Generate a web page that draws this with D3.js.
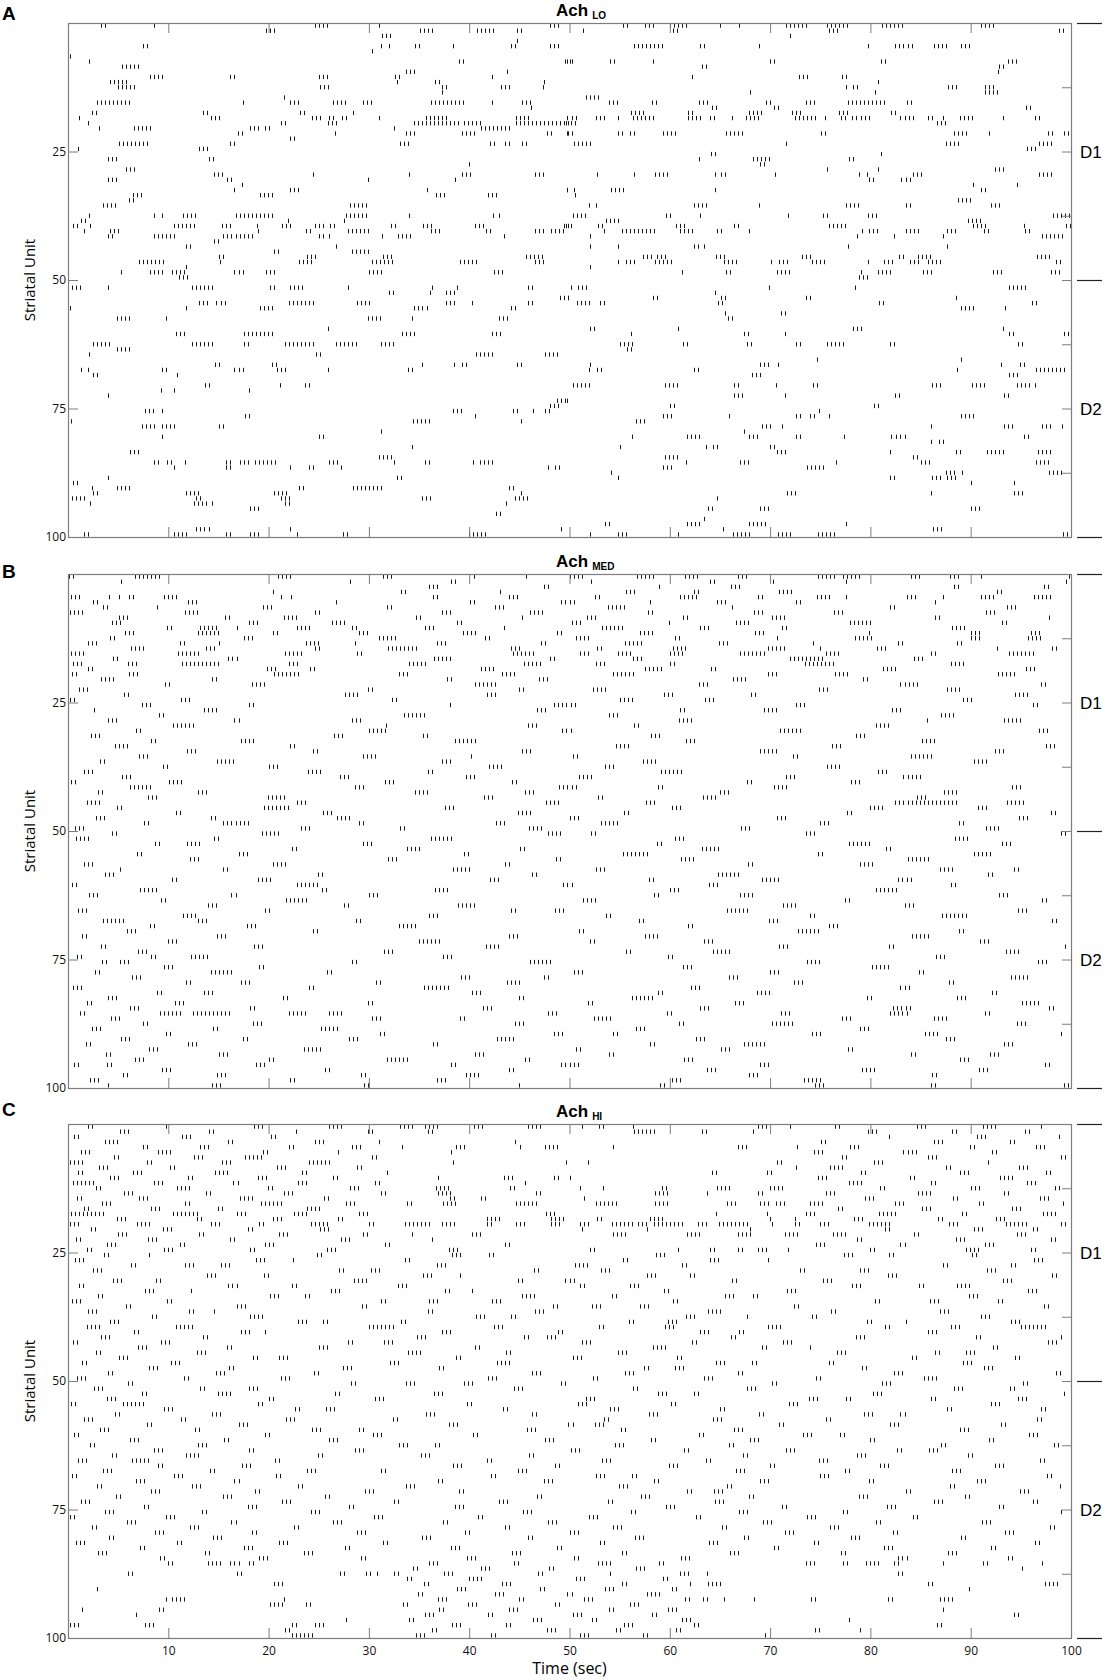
<!DOCTYPE html>
<html>
<head>
<meta charset="utf-8">
<script src="https://cdn.jsdelivr.net/npm/d3@7"></script>
<style>
  body { margin: 0; background: #fff; }
  svg { display: block; }
</style>
</head>
<body>
<div class="raster"></div>
<script>
// bursts: [unit, t1, n1, t2, n2, ...]
// t = time of the first spike of a burst (s), n = number of spikes in it
const achLoBursts = [
  [1,3.3,2],[1,8.6,1],[1,24.6,4],[1,31.0,1],[1,48.1,3],
  [2,19.7,3],[2,35.1,4],[2,40.8,5],[2,44.8,2],
  [3,31.3,3],[4,44.8,1],
  [5,7.5,2],[5,31.2,1],[5,32.0,1],[5,34.6,2],[5,38.4,1],[5,44.2,2],[5,48.1,3],
  [6,30.3,1],[7,0.2,1],
  [8,2.1,1],[8,39.0,2],[8,49.6,2],
  [9,5.4,5],
  [10,33.7,3],[10,43.8,1],
  [11,8.2,4],[11,16.2,2],[11,25.0,3],[11,32.6,2],[11,42.3,1],
  [12,4.2,5],[12,32.8,1],[12,36.6,2],[12,47.5,1],
  [13,5.0,5],[13,25.1,3],[13,37.3,2],[13,43.2,3],[13,47.4,1],
  [14,37.3,1],[15,21.5,1],
  [16,2.9,9],[16,17.4,1],[16,22.1,3],[16,26.4,4],[16,29.4,3],[16,36.2,9],[16,42.3,1],[16,45.3,3],
  [17,46.2,1],
  [18,2.4,2],[18,13.5,2],[18,23.1,2],[18,28.4,1],
  [19,1.1,1],[19,14.3,3],[19,24.3,3],[19,26.0,2],[19,27.3,2],[19,31.0,1],[19,35.7,6],[19,44.7,4],
  [20,2.0,1],[20,21.2,2],[20,25.9,3],[20,34.5,12],[20,39.5,5],[20,44.7,14],
  [21,3.1,1],[21,6.6,5],[21,18.1,3],[21,19.6,2],[21,32.5,1],[21,41.2,8],
  [22,16.9,2],[22,26.6,1],[22,33.7,3],[22,39.3,4],[22,47.8,2],[22,49.9,1],
  [23,22.1,2],
  [24,5.1,8],[24,16.2,2],[24,33.1,3],[24,42.1,2],[24,43.6,2],[24,45.3,2],
  [25,1.0,1],[25,13.1,3],
  [27,4.0,3],[27,14.1,2],[28,40.0,1],[29,5.8,3],
  [30,14.6,3],[30,24.4,1],[30,34.0,1],[30,39.3,3],[30,46.6,3],
  [31,4.0,3],[31,15.9,2],[31,29.9,1],[31,38.6,1],
  [32,17.3,1],
  [33,16.6,1],[33,22.1,3],[33,35.8,1],[33,49.8,1],
  [34,6.5,3],[34,19.1,4],[34,36.7,3],[34,41.9,3],
  [35,6.1,2],
  [36,3.5,4],[36,28.1,5],
  [38,2.1,1],[38,8.6,1],[38,9.4,1],[38,11.5,4],[38,16.7,10],[38,27.7,6],[38,34.0,1],[38,42.4,1],[38,43.0,1],
  [39,1.3,2],[39,21.9,1],[39,27.5,1],
  [40,0.5,2],[40,2.2,1],[40,10.6,6],[40,15.4,3],[40,18.8,1],[40,21.3,3],[40,24.6,3],[40,26.1,2],[40,32.2,2],[40,35.4,3],[40,40.6,3],[40,49.5,2],
  [41,1.6,1],[41,4.2,3],[41,18.9,1],[41,23.7,2],[41,27.9,6],[41,36.2,3],[41,41.7,2],[41,46.6,3],[41,48.2,4],
  [42,4.0,2],[42,8.6,6],[42,15.5,8],[42,25.0,2],[42,26.0,1],[42,31.3,1],[42,32.9,4],[42,43.5,1],
  [43,14.6,2],[44,11.8,2],[44,26.7,1],
  [45,20.5,2],[45,28.3,5],
  [46,15.1,2],[46,23.8,3],[46,31.4,3],[46,45.7,5],
  [47,7.1,7],[47,15.2,1],[47,23.0,4],[47,30.3,6],[47,39.1,5],[47,46.6,3],
  [48,11.8,1],
  [49,5.3,1],[49,8.2,4],[49,10.4,4],[49,16.6,3],[49,19.7,3],[49,30.0,4],[49,42.5,3],
  [50,11.1,3],
  [1,55.3,2],[1,57.5,3],[1,60.0,5],[1,65.0,1],[1,66.9,1],[1,71.6,6],[1,75.7,6],[1,81.2,6],[1,91.0,4],
  [2,51.3,1],[2,60.3,2],[2,75.9,3],[2,98.8,2],
  [3,72.0,1],
  [5,56.4,6],[5,58.8,2],[5,63.0,2],[5,68.9,1],[5,79.8,1],[5,82.5,5],[5,86.3,4],[5,89.0,3],
  [8,49.8,2],[8,54.0,2],[8,58.3,1],[8,70.0,2],[8,81.1,2],[8,93.7,3],
  [9,63.2,2],[9,92.8,2],[10,92.7,1],
  [11,62.2,1],[11,72.9,3],[11,77.2,2],
  [12,80.8,1],
  [13,77.6,1],[13,78.3,2],[13,87.7,3],[13,91.4,3],
  [14,68.0,1],[14,80.5,1],[14,91.4,4],
  [15,51.6,4],
  [16,53.9,3],[16,58.2,2],[16,62.9,3],[16,69.6,2],[16,73.6,3],[16,77.8,10],[16,83.6,2],
  [17,64.2,2],[17,70.4,2],[17,95.5,2],
  [18,56.1,4],[18,61.8,2],[18,67.9,4],[18,72.2,3],[18,76.9,3],[18,82.1,2],
  [19,49.8,3],[19,52.6,3],[19,54.8,1],[19,56.3,6],[19,61.8,4],[19,64.0,2],[19,66.2,1],[19,67.6,4],[19,72.5,2],[19,73.3,4],[19,75.5,1],
  [19,77.1,2],[19,78.2,2],[19,79.1,3],[19,83.0,4],[19,85.7,2],[19,87.2,1],[19,88.9,4],[19,93.2,1],[19,96.4,2],
  [20,49.7,3],[20,86.6,3],
  [22,49.8,2],[22,54.8,2],[22,56.0,2],[22,59.3,4],[22,65.6,5],[22,75.1,2],[22,88.3,4],[22,91.8,1],[22,97.7,2],[22,99.3,2],
  [24,50.4,5],[24,71.6,1],[24,87.5,4],[25,95.6,3],[24,96.8,4],
  [26,64.1,2],[26,81.1,1],
  [27,62.9,1],[27,68.3,5],[27,77.9,2],
  [28,69.0,2],
  [29,75.7,1],[29,80.8,1],[29,92.4,3],
  [30,52.7,1],[30,56.4,1],[30,58.5,4],[30,64.5,1],[30,65.1,2],[30,70.5,1],[30,78.9,1],[30,79.7,1],[30,84.2,3],[30,96.8,4],
  [31,79.9,2],[31,83.1,3],
  [32,90.2,1],[32,94.6,1],
  [33,49.8,1],[33,50.4,1],[33,54.1,4],[33,64.5,1],[33,91.0,2],
  [34,50.5,1],[35,88.7,4],
  [36,51.9,1],[36,52.6,1],[36,62.4,4],[36,68.9,1],[36,77.6,4],[36,83.5,2],[36,92.0,3],
  [38,50.3,4],[38,59.6,2],[38,63.0,1],[38,71.8,1],[38,75.3,2],[38,79.8,3],[38,98.2,5],
  [39,53.6,4],[39,89.7,4],
  [40,49.7,2],[40,52.8,2],[40,60.6,3],[40,66.4,2],[40,75.9,5],[40,90.2,4],[40,95.3,1],[40,99.5,2],
  [41,53.4,1],[41,55.2,9],[41,61.0,4],[41,64.7,2],[41,67.9,1],[41,79.2,1],[41,79.9,3],[41,83.5,4],[41,87.6,3],[41,91.3,2],[41,95.4,2],
  [42,52.0,1],[42,78.7,1],[42,82.4,1],[42,87.2,1],[42,97.1,6],
  [44,52.0,1],[44,54.8,1],[44,62.4,2],[44,63.4,1],[44,77.8,1],[44,87.6,1],
  [46,57.3,3],[46,58.7,3],[46,64.6,3],[46,73.2,3],[46,82.9,2],[46,84.7,4],[46,96.6,4],
  [47,54.8,1],[47,55.6,3],[47,58.5,5],[47,65.4,4],[47,70.1,1],[47,70.9,3],[47,74.2,4],[47,79.8,1],[47,81.4,3],[47,83.9,3],[47,85.7,4],[47,98.5,2],
  [48,52.0,1],
  [49,61.2,1],[49,65.6,2],[49,70.7,4],[49,79.1,1],[49,80.8,4],[49,85.2,3],[49,92.2,3],[49,98.0,3],
  [50,78.9,3],
  [52,0.0,4],[52,4.0,1],[52,12.4,6],[52,20.1,2],[52,22.1,4],[52,27.9,1],[52,36.3,1],[52,38.8,1],[52,45.9,2],
  [53,32.0,2],[53,36.1,1],[53,37.7,3],
  [54,49.1,3],
  [55,13.1,3],[55,14.8,1],[55,15.3,2],[55,22.0,7],[55,28.8,4],[55,37.7,3],[55,40.3,1],[55,45.9,2],
  [56,0.2,1],[56,11.8,1],[56,19.1,4],[56,34.5,3],[56,35.8,1],[56,44.2,2],
  [58,4.9,4],[58,9.8,1],[58,29.9,4],[58,34.3,1],[58,43.0,3],
  [60,25.9,1],
  [61,10.8,3],[61,17.5,8],[61,33.3,4],[61,42.3,3],
  [63,0.0,1],[63,2.5,5],[63,12.4,6],[63,17.5,2],[63,21.6,8],[63,26.7,6],[63,31.2,4],
  [64,4.9,4],
  [65,2.1,1],[65,24.7,2],[65,40.7,5],[65,47.6,4],
  [67,14.7,2],[67,20.3,2],[67,35.3,1],[67,38.5,1],[67,39.3,2],[67,44.8,2],
  [68,1.3,1],[68,2.0,1],[68,9.4,2],[68,16.6,3],[68,20.8,3],[68,25.9,1],[68,33.9,2],
  [69,2.5,2],[69,10.9,1],
  [71,13.7,2],[71,21.1,1],[71,23.6,2],
  [72,9.3,1],[72,10.6,1],[72,18.0,1],
  [73,4.0,1],[74,48.8,3],[75,48.1,3],
  [76,7.7,3],[76,9.4,1],[76,38.4,3],[76,44.4,2],[76,46.4,1],[76,47.6,2],
  [77,17.6,2],[77,40.6,1],
  [78,0.3,1],[78,34.4,5],[78,45.2,1],
  [79,7.4,4],[79,9.4,4],[79,15.1,2],
  [80,31.2,1],[81,9.4,1],[81,25.0,2],[83,34.3,1],[84,6.2,3],[85,31.0,4],
  [86,8.6,2],[86,9.9,2],[86,11.7,1],[86,15.8,2],[86,17.1,3],[86,18.6,6],[86,26.0,3],[86,32.5,1],[86,35.6,2],[86,40.4,1],[86,41.1,4],
  [87,10.6,1],[87,15.8,2],[87,22.1,1],[87,24.0,2],[87,27.2,1],[87,47.9,1],[87,48.6,2],
  [89,4.0,1],[89,32.8,2],
  [90,0.5,2],
  [91,2.4,1],[91,4.9,4],[91,23.0,2],[91,28.4,8],[91,44.0,2],
  [92,2.5,2],[92,11.8,4],[92,20.5,4],[92,45.2,1],
  [93,0.0,5],[93,12.8,2],[93,21.2,3],[93,35.3,3],[93,44.6,4],
  [94,2.2,1],[94,12.6,4],[94,14.4,1],[94,21.6,2],[94,43.7,1],
  [95,18.1,3],[96,42.7,2],
  [99,12.8,3],[99,14.1,1],[99,22.1,1],[99,49.2,1],
  [100,1.6,2],[100,10.6,4],[100,15.8,2],[100,18.1,3],[100,22.8,1],[100,27.4,2],[100,40.0,5],
  [52,50.1,1],[52,50.8,3],[52,69.9,1],[52,78.5,1],[52,93.8,5],
  [53,64.5,1],
  [54,49.9,1],[54,58.3,2],[54,65.1,2],[54,73.6,2],[54,88.5,1],
  [55,50.7,4],[55,53.0,2],[55,64.8,2],[55,80.9,2],[55,96.1,2],
  [56,89.0,4],[56,93.4,1],
  [57,65.5,1],[57,71.1,2],[58,65.8,2],
  [60,52.0,2],[60,60.8,1],[60,78.3,3],[60,93.2,1],
  [61,56.1,1],[61,67.4,2],[61,71.5,1],[61,93.8,2],[61,99.3,3],
  [63,55.0,4],[63,61.3,2],[63,67.7,2],[63,72.6,2],[63,75.7,5],[63,82.0,2],[63,94.7,2],
  [64,55.7,2],[66,74.7,1],[66,89.0,1],
  [67,52.0,1],[67,69.0,3],[67,70.8,1],[67,93.0,1],[67,94.9,2],
  [68,51.9,1],[68,52.7,2],[68,62.4,2],[68,88.6,1],[68,96.5,8],
  [69,68.2,3],[69,93.8,3],
  [71,50.3,3],[71,51.5,2],[71,59.5,4],[71,66.4,2],[71,70.6,1],[71,74.3,2],[71,86.1,3],[71,90.1,4],[71,94.6,4],[71,96.4,1],
  [73,66.4,3],[73,71.5,1],[73,82.5,2],[73,93.3,2],
  [74,49.8,1],[75,60.0,2],[75,80.4,2],[76,74.9,1],
  [77,59.3,3],[77,65.9,1],[77,72.6,2],[77,74.0,2],[77,75.9,1],[77,89.0,4],
  [78,56.6,3],
  [79,69.2,3],[79,71.2,1],[79,86.0,1],[79,93.3,3],[79,97.1,3],[79,99.1,1],
  [80,67.4,1],
  [81,56.2,1],[81,61.7,4],[81,67.9,3],[81,72.6,2],[81,77.4,1],[81,82.1,1],[81,82.6,3],[81,95.3,2],
  [82,86.0,1],[82,86.8,2],
  [83,55.0,1],[83,63.6,1],[83,64.3,2],[83,70.0,2],
  [84,70.7,3],[84,82.0,1],[84,88.5,2],[84,91.6,5],[84,96.7,4],
  [85,59.5,4],[85,84.2,2],
  [86,61.6,1],[86,67.0,3],[86,76.6,1],[86,85.0,3],[86,96.5,4],
  [87,59.3,3],[87,73.7,5],
  [88,54.1,1],[88,87.5,3],[88,89.1,1],[88,97.8,4],
  [89,54.8,1],[89,82.0,2],[89,86.1,3],[89,87.6,3],
  [90,90.0,1],[90,94.3,1],
  [92,71.7,3],[92,86.0,1],[92,94.3,3],
  [93,64.7,1],
  [95,63.8,2],[95,69.0,3],[95,90.0,3],
  [97,63.4,1],
  [98,53.5,2],[98,61.7,4],[98,67.9,5],[98,77.6,1],
  [99,65.3,1],[99,86.2,3],
  [100,52.0,1],[100,54.8,3],[100,60.8,1],[100,66.3,5],[100,70.8,4],[100,74.8,5],[100,99.2,3]
];

const achMedBursts = [
  [1,0.1,2],[1,6.7,7],[1,20.9,4],[1,31.4,3],[2,5.3,1],[2,28.1,1],
  [5,0.3,3],[5,4.1,1],[5,5.1,1],[5,6.1,2],[5,9.6,4],[4,20.4,1],[5,21.2,1],[5,22.2,1],
  [8,0.2,4],[8,11.7,4],[9,15.7,2],[10,4.4,3],[10,18.0,3],
  [11,9.9,2],[11,13.2,5],[11,16.8,1],[11,22.8,4],[11,28.3,2],[12,5.7,3],[13,31.0,5],
  [14,11.2,2],[14,15.1,1],[14,23.7,4],[14,28.6,1],
  [1,74.8,5],[1,77.3,5],[1,84.0,3],[1,87.9,3],[1,91.0,1],[1,99.8,1],[2,77.6,1],[2,99.5,1],
  [3,88.3,2],[3,97.3,2],[4,92.6,2],[5,74.7,4],[5,77.6,1],[5,83.6,3],[5,87.2,1],[5,91.0,4],[5,96.3,5],
  [6,72.6,2],[6,86.4,1],[8,76.4,3],[8,91.5,3],[10,78.0,6],[11,88.1,4],[12,90.0,3],
  [13,78.5,5],[13,90.0,3],[13,95.7,4],[14,74.3,1],[14,82.8,2],[15,75.0,1],[15,92.6,1],
  [1, 40.5,1, 45.7,1, 50.0,4, 56.7,5, 61.5,4, 66.8,3],
  [2, 38.2,2, 52.1,1, 64.0,2, 70.3,1],
  [3, 36.0,3, 47.5,2, 58.9,1, 66.1,3],
  [4, 33.2,2, 43.1,1, 55.6,3, 62.4,2, 70.9,4],
  [5, 36.4,2, 44.0,3, 52.5,2, 61.0,5, 68.8,2],
  [6, 2.5,2, 12.0,3, 26.7,1, 40.1,2, 49.2,4, 58.0,1, 64.7,3],
  [7, 3.5,2, 8.9,1, 19.4,3, 31.8,2, 42.6,3, 53.8,5, 66.2,1, 82.0,2, 93.6,3],
  [8, 24.6,2, 37.3,3, 46.1,4, 57.8,2, 68.4,3],
  [9, 5.1,3, 21.5,4, 34.7,2, 45.3,1, 51.7,3, 61.3,2, 70.2,4, 86.4,2, 97.8,1],
  [10, 26.3,4, 38.8,2, 50.2,3, 59.9,1, 66.6,4, 93.1,2],
  [11, 35.6,3, 43.5,1, 53.2,6, 63.0,3, 71.2,2],
  [12, 13.0,6, 20.4,2, 29.0,3, 39.4,4, 48.8,2, 57.0,4, 68.5,3, 79.9,1, 96.0,3],
  [13, 4.2,2, 17.5,3, 41.6,2, 50.6,4, 60.5,2, 70.7,1],
  [14, 2.0,3, 36.8,3, 47.2,2, 55.5,5, 64.9,3, 88.6,2],
  [15, 6.3,4, 13.8,3, 24.6,2, 31.9,8, 44.2,3, 52.7,2, 60.3,4, 69.8,5, 80.7,3, 98.1,2],
  [16, 0.3,4, 11.0,6, 21.6,5, 28.8,2, 44.4,6, 51.0,3, 54.8,4, 60.0,4, 67.0,7, 75.6,4, 86.0,2, 93.8,7],
  [17, 4.5,2, 16.0,3, 36.5,5, 48.1,2, 56.3,3, 72.0,9, 84.3,3],
  [18, 0.5,3, 6.0,3, 11.4,10, 22.0,3, 34.0,5, 45.5,5, 52.6,3, 60.0,2, 73.5,8, 88.0,4],
  [19, 2.0,2, 19.8,3, 24.1,2, 41.2,4, 57.5,5, 64.1,2, 81.3,4, 95.5,3],
  [20, 0.4,2, 6.1,3, 20.5,7, 33.0,3, 43.3,4, 54.3,6, 69.8,3, 76.5,4, 92.7,5],
  [21, 3.3,4, 14.4,2, 37.8,2, 47.0,3, 66.3,4, 79.3,2],
  [22, 9.7,2, 18.3,4, 40.6,6, 62.9,3, 83.0,5, 97.0,2],
  [23, 1.1,3, 29.9,2, 45.0,2, 52.3,4, 74.9,3, 87.6,4],
  [24, 5.6,2, 27.6,4, 41.8,3, 59.4,3, 68.1,2, 94.4,4],
  [25, 0.2,2, 11.3,3, 32.3,2, 55.0,4, 63.5,3, 89.2,3],
  [26, 7.4,3, 18.0,2, 38.1,1, 48.5,6, 72.6,3, 96.2,2],
  [27, 2.6,1, 13.6,4, 46.8,3, 61.0,2, 69.4,4, 82.2,3],
  [28, 9.1,2, 33.5,6, 53.9,3, 87.0,4],
  [29, 4.0,3, 16.6,2, 28.3,3, 60.9,4, 85.6,1, 93.3,5],
  [30, 10.5,6, 31.7,1, 45.9,3, 56.4,2, 80.6,4],
  [31, 6.8,2, 30.0,5, 49.3,3, 71.0,6, 96.8,3],
  [32, 2.3,3, 26.5,3, 35.4,2, 58.1,3, 78.6,3],
  [33, 8.3,2, 17.2,4, 38.6,6, 61.6,3, 85.1,4],
  [34, 4.7,4, 22.1,2, 54.6,4, 76.2,3, 97.5,3],
  [35, 11.9,3, 24.4,2, 45.3,3, 69.0,5, 92.4,3],
  [36, 7.1,3, 29.4,4, 40.2,1, 50.3,2, 72.3,2, 84.0,6],
  [37, 3.2,2, 14.9,5, 37.3,3, 57.3,4, 90.3,4],
  [38, 9.5,2, 20.0,3, 42.0,4, 53.5,3, 75.7,4],
  [39, 1.6,3, 23.9,4, 35.9,2, 59.1,6, 80.8,3],
  [40, 5.4,3, 27.1,3, 39.7,3, 50.9,4, 71.6,3, 83.3,5],
  [41, 0.3,2, 10.1,4, 31.6,3, 44.3,2, 67.7,2, 78.1,3],
  [42, 6.2,6, 28.6,3, 49.0,5, 58.8,2, 70.4,4, 94.1,3],
  [43, 3.0,2, 13.0,3, 34.6,4, 45.6,3, 65.0,3, 87.3,4],
  [44, 8.0,3, 19.9,5, 41.5,3, 52.8,2, 63.3,4, 84.6,3],
  [45, 1.9,4, 22.8,3, 47.7,4, 57.6,3, 82.5,16, 93.6,5],
  [46, 4.9,2, 19.5,7, 37.6,3, 60.2,3, 80.0,4, 90.7,3],
  [47, 10.8,2, 25.4,3, 44.9,4, 55.4,2, 77.7,2, 98.0,2],
  [48, 2.8,3, 14.3,2, 26.8,4, 50.0,3, 70.7,3, 94.8,3],
  [49, 7.6,2, 15.5,7, 29.0,2, 42.7,3, 53.1,5, 75.0,3, 88.8,2],
  [50, 0.7,3, 23.2,3, 33.1,2, 46.0,4, 67.1,3, 91.5,4],
  [51, 4.4,2, 19.3,5, 47.9,4, 52.1,2, 73.6,3, 99.0,2],
  [52, 0.8,4, 14.6,2, 36.2,6, 60.5,3, 88.4,4],
  [53, 8.7,2, 11.9,4, 29.4,3, 58.7,2, 77.9,6, 93.1,3],
  [54, 22.3,2, 33.8,4, 45.1,2, 63.2,5, 81.6,2],
  [55, 6.9,2, 17.0,3, 39.5,2, 55.3,7, 74.8,2, 90.3,5],
  [56, 12.2,3, 31.9,3, 48.7,2, 61.1,4, 83.7,6],
  [57, 1.6,3, 20.4,4, 43.6,2, 67.8,2, 79.0,4],
  [58, 5.2,1, 15.5,2, 38.4,5, 52.6,3, 86.9,4, 94.3,2],
  [59, 3.7,3, 24.9,2, 46.3,2, 64.8,6, 91.7,2],
  [60, 10.4,2, 18.9,4, 42.1,3, 57.9,2, 69.2,5, 82.8,4],
  [61, 0.4,2, 22.8,6, 49.4,3, 63.9,3, 88.0,2],
  [62, 7.2,5, 25.3,2, 36.6,4, 60.0,3, 80.6,6],
  [63, 2.1,3, 16.3,2, 30.0,3, 58.4,2, 67.0,4, 92.8,3],
  [64, 9.3,2, 21.7,6, 51.3,4, 77.5,2, 97.1,2],
  [65, 14.0,3, 27.5,2, 38.9,5, 71.3,4, 83.4,3],
  [66, 1.0,3, 19.6,2, 44.2,2, 48.6,3, 65.7,6, 94.7,3],
  [67, 11.5,4, 36.0,3, 53.6,2, 74.0,2, 87.1,7],
  [68, 3.5,6, 13.0,3, 28.7,2, 56.9,2, 69.9,3, 98.1,2],
  [69, 8.2,2, 17.8,3, 33.0,5, 61.8,2, 75.9,3],
  [70, 5.9,3, 24.4,2, 50.9,2, 72.8,6, 88.8,2],
  [71, 1.4,2, 14.9,3, 44.0,3, 57.5,4, 84.1,5],
  [72, 10.0,3, 35.0,6, 52.0,2, 63.4,3, 90.9,3],
  [73, 3.3,2, 18.5,3, 41.7,4, 70.9,3, 81.9,2, 99.4,1],
  [74, 7.0,3, 31.5,3, 55.6,2, 64.3,5, 93.5,4],
  [75, 0.9,2, 8.3,2, 12.3,5, 37.4,3, 59.8,2, 86.5,3],
  [76, 3.4,2, 5.2,3, 28.3,2, 46.1,6, 73.7,4, 96.7,3],
  [77, 9.6,3, 19.0,2, 61.3,3, 80.2,5],
  [78, 2.7,2, 14.3,6, 25.8,2, 50.4,3, 70.0,3, 84.8,2],
  [79, 6.4,3, 39.2,3, 47.5,2, 65.9,3, 94.0,5],
  [80, 11.8,2, 17.2,3, 30.7,2, 43.8,4, 72.4,3, 87.8,2],
  [81, 0.5,3, 24.0,2, 35.5,7, 62.1,3, 83.0,3],
  [82, 8.9,2, 13.6,3, 40.3,3, 58.8,2, 68.7,4, 92.1,2],
  [83, 4.0,3, 21.4,2, 45.0,2, 56.2,6, 79.7,2, 88.6,3],
  [84, 1.9,2, 10.7,3, 29.9,2, 51.8,2, 66.5,3, 95.1,5],
  [85, 6.2,3, 18.1,2, 41.4,3, 63.0,3, 82.3,5, 97.8,2],
  [86, 1.2,2, 9.2,6, 12.5,10, 22.0,5, 26.0,4, 47.9,3, 59.7,2, 71.1,3, 82.0,5, 91.4,2],
  [87, 4.3,3, 30.3,3, 39.1,2, 52.4,5, 77.2,3, 86.3,4],
  [88, 7.5,2, 18.4,3, 44.6,3, 60.9,2, 70.2,6, 94.6,3],
  [89, 2.4,3, 14.5,2, 25.2,5, 56.6,3, 79.0,3],
  [90, 9.8,2, 31.1,2, 48.5,3, 54.3,2, 74.2,3, 85.4,4, 99.0,1],
  [91, 5.3,3, 17.4,2, 28.0,3, 42.8,5, 62.6,3, 87.5,3],
  [92, 1.8,2, 12.0,3, 36.4,2, 58.0,2, 67.4,6, 93.3,3],
  [93, 8.1,3, 23.5,5, 50.6,2, 65.1,3, 77.8,2],
  [94, 3.8,2, 15.1,3, 40.6,3, 53.9,2, 84.0,2, 91.9,3],
  [95, 6.7,3, 20.0,2, 31.8,6, 45.6,2, 61.4,3, 88.9,3],
  [96, 0.6,2, 3.9,2, 18.7,3, 38.2,2, 49.2,5, 69.0,3, 97.4,2],
  [97, 9.4,3, 25.6,2, 44.0,2, 63.7,3, 79.2,4, 90.8,3],
  [98, 5.5,2, 14.9,3, 29.2,2, 39.7,4, 67.9,3, 86.1,2],
  [99, 2.2,3, 22.1,2, 36.8,3, 60.2,3, 73.4,5],
  [100, 4.0,1, 14.4,3, 29.5,2, 45.0,1, 59.0,2, 74.5,3, 86.0,2, 99.3,2]
];

const achHiBursts = [
  [1,33.1,4],[1,35.6,4],[1,40.5,3],[1,45.9,4],[1,51.2,1],[1,52.9,2],[1,56.3,1],[1,68.8,3],[1,72.0,1],
  [2,35.9,2],[2,56.4,6],[2,63.2,2],[2,68.3,1],
  [4,44.6,1],
  [5,33.3,1],[5,38.7,3],[5,45.1,1],[5,47.6,4],[5,54.3,1],[5,66.8,3],[5,72.7,1],
  [6,38.2,1],
  [8,38.4,1],[8,49.7,1],[8,51.8,1],[8,70.7,2],[9,72.6,1],
  [10,64.2,2],[10,69.7,2],
  [11,36.9,1],[11,43.5,3],[11,48.5,2],[11,50.0,1],[12,45.6,1],
  [13,36.7,4],[13,44.1,2],[13,51.0,1],[13,53.3,1],[13,59.2,2],[13,64.7,4],[13,70.0,4],
  [14,36.9,4],[14,46.7,2],[14,58.5,4],[14,63.7,1],[14,68.8,2],
  [15,38.1,2],[15,41.2,2],[15,51.4,1],
  [16,33.8,2],[16,37.4,4],[16,44.7,6],[16,52.6,6],[16,58.5,4],[16,65.7,3],[16,69.0,3],[16,70.6,3],
  [18,47.7,3],[18,64.6,1],[18,69.7,1],
  [19,41.8,4],[19,48.2,4],[19,52.7,2],[19,58.0,4],[19,70.0,1],[19,72.5,1],
  [20,33.6,7],[20,37.3,4],[20,41.8,2],[20,44.7,3],[20,48.2,3],[20,51.0,3],[20,54.2,6],[20,56.8,3],[20,58.4,8],[20,62.8,3],[20,64.9,8],[20,70.2,1],[20,72.5,2],
  [21,51.2,1],[21,57.7,1],[21,68.0,1],
  [22,34.3,1],[22,40.3,3],[22,54.3,4],[22,61.7,4],[22,66.8,4],[22,71.5,4],
  [23,36.3,1],[24,43.6,2],
  [25,38.0,3],[25,52.0,2],[25,60.8,1],[25,64.0,2],[25,66.8,2],[25,68.8,3],[25,71.8,1],
  [86,10.0,2],[86,14.0,4],[86,16.2,3],[86,18.0,2],
  [88,6.0,2],[88,16.8,2],[88,27.1,2],[88,29.7,2],[88,30.8,1],[88,32.5,2],
  [90,20.5,3],[91,2.9,1],
  [93,9.8,1],[93,10.4,4],[93,21.5,1],
  [94,20.1,4],[94,23.7,2],
  [95,1.4,1],[95,9.1,2],[96,6.8,1],[97,27.7,1],
  [98,0.2,3],[98,7.7,3],[98,22.3,2],[98,24.6,3],
  [99,21.6,2],[100,22.3,6],
  [86,73.6,3],[86,77.3,2],[86,79.6,4],[86,82.4,2],[86,87.2,1],[86,91.2,2],[86,97.1,1],
  [87,95.1,1],[88,63.7,1],[88,82.8,2],
  [90,63.8,4],[90,85.7,2],[90,97.4,4],[91,89.8,1],
  [93,63.3,2],[93,65.4,1],[93,68.4,1],[93,74.1,2],[93,81.8,2],[93,86.9,4],
  [95,87.2,1],[96,94.3,2],[97,77.9,1],[98,86.6,2],[99,74.5,2],[99,79.0,1],[100,69.5,1],
  [1, 2.0,2, 9.8,1, 18.5,3, 26.0,4, 76.5,2, 84.6,3, 91.2,4, 97.0,1],
  [2, 5.2,3, 14.1,2, 22.7,1, 29.9,2, 79.8,3, 88.1,2, 95.4,2],
  [3, 0.6,2, 11.4,3, 20.2,2, 81.9,1, 90.6,3, 98.8,1],
  [4, 3.7,4, 16.0,2, 24.6,3, 31.0,1, 75.1,2, 86.3,3, 93.9,2],
  [5, 7.5,2, 13.2,3, 22.0,2, 28.3,3, 78.0,3, 89.9,2, 96.5,3],
  [6, 1.3,3, 9.0,4, 19.4,2, 26.9,1, 74.4,3, 83.3,4, 92.1,2],
  [7, 4.6,2, 12.6,3, 17.6,5, 30.3,2, 77.2,2, 85.7,3, 99.0,2],
  [8, 0.2,4, 7.9,2, 15.4,3, 24.0,6, 80.4,3, 91.7,1],
  [9, 3.1,3, 10.2,2, 20.8,3, 28.8,2, 76.0,4, 87.5,2, 94.8,3],
  [10, 1.0,2, 6.5,3, 14.7,4, 23.3,2, 31.8,1, 79.1,2, 88.9,3, 97.5,2],
  [11, 4.2,3, 12.0,2, 18.9,3, 26.4,2, 74.8,3, 83.9,2, 92.9,4],
  [12, 0.5,6, 8.6,3, 16.5,2, 22.9,3, 30.6,2, 77.9,4, 86.0,2, 95.6,3],
  [13, 2.8,2, 10.9,4, 19.9,2, 28.1,3, 81.0,2, 90.0,3, 98.4,2],
  [14, 5.6,3, 13.8,2, 21.5,3, 31.2,2, 75.6,3, 84.7,4, 93.3,2],
  [15, 0.9,2, 7.1,3, 17.1,4, 25.5,2, 79.5,3, 88.2,2, 96.9,3],
  [16, 3.4,3, 11.7,2, 19.2,6, 27.7,3, 74.0,4, 82.5,3, 90.8,2, 99.2,1],
  [17, 1.6,2, 8.3,3, 15.0,2, 23.8,4, 76.8,2, 85.1,3, 94.1,3],
  [18, 0.3,9, 10.5,7, 16.8,3, 22.5,4, 29.0,3, 73.6,3, 80.9,5, 89.1,2, 97.2,4],
  [19, 4.9,3, 12.9,2, 20.4,3, 26.9,2, 78.4,3, 86.7,2, 92.5,3],
  [20, 0.2,3, 6.9,4, 14.3,3, 19.0,2, 24.2,5, 30.0,2, 75.0,3, 79.9,6, 87.8,3, 93.5,6, 99.0,2],
  [21, 2.3,2, 9.5,3, 17.9,2, 25.1,3, 81.5,2, 90.3,3, 96.2,2],
  [22, 5.0,3, 13.1,2, 21.0,3, 29.4,2, 76.3,4, 84.3,2, 94.6,3],
  [23, 0.8,2, 8.0,3, 16.2,2, 27.2,3, 78.7,2, 88.5,3, 98.0,2],
  [24, 3.9,3, 11.2,2, 19.6,3, 31.6,2, 74.6,3, 83.0,2, 91.4,3],
  [25, 1.9,2, 9.6,3, 18.1,2, 25.8,3, 80.0,2, 89.5,4, 96.0,2],
  [26, 3.6,2, 8.1,1, 24.8,2, 38.3,3, 42.0,2, 58.6,3, 77.4,3, 81.9,2, 90.1,2],
  [27, 0.7,3, 18.7,3, 22.4,1, 33.6,2, 55.3,2, 64.0,3, 69.8,1, 96.3,3],
  [28, 6.3,2, 11.7,3, 15.3,3, 36.8,3, 50.5,4, 61.2,2, 87.2,2, 94.0,2],
  [29, 2.5,3, 27.0,2, 30.2,3, 46.5,2, 53.1,3, 73.0,2, 79.0,3, 91.6,3],
  [30, 13.9,3, 19.5,2, 35.4,3, 39.1,1, 57.7,3, 62.0,2, 81.8,3, 98.1,2],
  [31, 4.5,3, 8.8,2, 28.5,4, 44.9,2, 49.6,3, 66.2,2, 75.3,3, 93.2,3],
  [32, 1.1,2, 16.0,3, 22.3,2, 32.9,3, 51.0,2, 56.0,3, 78.2,3, 84.8,2, 88.6,4],
  [33, 7.7,3, 12.3,1, 26.2,3, 37.6,2, 40.3,1, 59.4,2, 71.7,3, 95.7,3],
  [34, 3.0,2, 20.1,3, 23.6,2, 45.3,4, 54.2,2, 65.5,3, 68.3,2, 89.8,3],
  [35, 0.4,3, 9.9,2, 31.2,2, 36.0,3, 42.3,3, 60.3,2, 80.5,2, 85.9,3, 92.7,2],
  [36, 5.8,2, 16.8,3, 29.3,2, 48.4,2, 52.2,3, 57.0,3, 72.4,2, 97.3,2],
  [37, 2.0,3, 12.1,2, 14.6,1, 35.9,2, 46.6,3, 63.8,4, 76.1,2, 86.9,3],
  [38, 8.4,2, 18.1,4, 40.7,3, 44.2,2, 61.6,3, 67.7,1, 74.2,2, 91.0,3],
  [39, 4.2,3, 22.9,3, 25.4,2, 33.2,2, 55.9,2, 59.8,3, 79.7,2, 83.5,1, 94.0,3],
  [40, 1.9,4, 10.8,5, 30.0,7, 42.5,3, 52.9,2, 59.5,3, 69.8,4, 81.5,2, 88.0,3, 95.0,7],
  [41, 6.6,2, 17.2,3, 19.6,1, 37.3,3, 48.9,2, 63.0,3, 66.9,2, 85.7,3],
  [42, 3.3,3, 13.5,2, 34.8,3, 45.5,2, 47.8,3, 66.1,2, 78.6,3, 90.5,2, 99.0,1],
  [43, 0.5,2, 9.3,3, 27.9,2, 31.5,3, 51.2,3, 62.2,2, 71.3,3, 97.7,3],
  [44, 7.0,3, 15.9,2, 25.0,3, 40.6,2, 58.3,4, 69.2,2, 74.0,1, 92.2,2],
  [45, 2.8,2, 12.9,3, 33.9,4, 43.7,2, 54.8,3, 76.7,3, 86.4,2, 89.5,3],
  [46, 5.1,3, 18.4,2, 21.0,3, 38.7,2, 50.3,3, 60.7,2, 84.1,2, 94.4,2],
  [47, 1.4,2, 10.3,3, 32.1,3, 42.8,4, 64.6,3, 68.2,2, 75.9,2, 89.2,3],
  [48, 8.1,3, 16.1,2, 27.4,3, 37.0,2, 57.4,2, 60.5,3, 79.2,2, 91.3,3],
  [49, 4.0,2, 14.8,3, 24.5,2, 46.3,3, 55.5,3, 66.8,2, 82.4,3, 98.5,2],
  [50, 0.9,3, 11.6,2, 21.2,3, 41.9,3, 52.3,2, 63.4,3, 74.6,2, 85.3,4],
  [51, 6.0,2, 28.2,2, 33.7,3, 39.5,3, 49.2,2, 70.2,2, 81.2,3, 95.2,2],
  [52, 2.6,3, 13.2,2, 18.0,3, 44.5,3, 56.3,2, 67.7,3, 88.3,3, 93.9,2],
  [53, 7.4,2, 15.0,4, 26.6,2, 36.5,3, 58.8,3, 62.4,2, 80.3,3, 99.3,1],
  [54, 3.9,3, 20.0,2, 30.6,3, 51.6,3, 73.9,3, 77.6,2, 86.0,2, 94.7,3],
  [55, 0.3,2, 5.5,6, 18.9,2, 39.8,2, 50.8,3, 60.1,2, 71.9,3, 92.0,3],
  [56, 9.6,3, 22.6,2, 25.7,3, 43.4,2, 54.0,3, 65.0,2, 87.6,2, 97.0,2],
  [57, 4.7,2, 14.4,3, 35.7,3, 46.3,2, 57.9,3, 68.9,2, 79.4,3, 83.0,2],
  [58, 1.6,3, 11.3,2, 21.7,3, 32.4,2, 53.4,2, 64.3,3, 75.6,2, 96.6,2],
  [59, 7.9,2, 17.0,3, 38.0,3, 49.9,2, 52.5,3, 70.9,2, 82.0,3, 93.0,2],
  [60, 3.2,3, 12.7,2, 24.3,3, 29.0,2, 45.8,3, 55.1,2, 66.4,3, 88.9,3],
  [61, 0.6,2, 19.6,2, 30.4,3, 40.4,2, 62.9,2, 73.3,3, 77.0,2, 95.8,3],
  [62, 6.2,3, 15.6,2, 26.0,3, 47.6,3, 58.1,2, 68.0,3, 80.0,2, 91.8,2],
  [63, 2.2,2, 13.0,3, 33.0,3, 36.6,2, 54.5,3, 65.9,2, 87.0,2, 98.3,2],
  [64, 8.6,3, 18.0,2, 28.6,3, 50.1,3, 61.4,2, 71.6,3, 82.7,2, 85.8,3],
  [65, 4.4,2, 11.8,4, 24.9,2, 35.2,3, 46.0,2, 67.3,2, 78.7,3, 89.7,2],
  [66, 1.0,3, 6.4,5, 20.6,2, 41.8,2, 53.2,3, 63.6,2, 74.9,3, 96.9,2],
  [67, 9.0,2, 17.3,3, 38.4,3, 48.6,2, 59.9,3, 70.0,2, 81.0,3, 92.4,3],
  [68, 3.5,3, 14.2,2, 23.8,3, 31.2,2, 44.9,3, 66.6,3, 77.5,2, 88.1,3],
  [69, 0.4,2, 10.6,3, 20.7,2, 42.2,2, 52.6,3, 56.2,2, 75.0,3, 97.6,2],
  [70, 6.8,3, 16.6,2, 36.9,2, 47.5,3, 58.4,2, 69.0,3, 79.9,2, 90.6,3],
  [71, 2.9,2, 12.4,3, 22.9,2, 33.7,3, 54.9,3, 65.7,2, 87.9,2, 98.9,1],
  [72, 8.3,3, 18.6,2, 29.6,3, 39.0,2, 61.7,2, 64.4,3, 83.5,2, 94.9,3],
  [73, 4.8,2, 15.5,3, 25.6,2, 46.8,2, 57.1,3, 67.9,2, 78.9,3, 89.4,2],
  [74, 1.3,3, 21.3,3, 32.5,2, 43.0,3, 53.8,2, 64.5,3, 86.3,3, 96.2,2],
  [75, 7.6,2, 17.9,3, 28.0,2, 38.6,3, 59.6,3, 71.2,2, 81.7,3, 92.8,2],
  [76, 3.7,3, 13.4,2, 24.2,3, 45.4,3, 56.1,2, 66.9,3, 77.3,2, 99.0,1],
  [77, 0.2,2, 9.8,3, 30.5,3, 40.9,2, 51.9,3, 62.6,2, 73.7,3, 84.2,2],
  [78, 5.9,3, 16.3,2, 26.4,3, 37.4,2, 47.9,3, 69.3,3, 80.6,2, 91.1,3],
  [79, 2.4,2, 12.2,3, 22.5,2, 43.6,2, 54.3,3, 65.2,2, 76.0,3, 97.9,2],
  [80, 8.7,3, 18.3,2, 28.8,3, 39.6,2, 50.0,3, 71.5,3, 82.3,2, 93.4,3],
  [81, 4.1,2, 14.5,3, 35.3,3, 45.9,2, 56.5,3, 67.4,2, 78.1,3, 89.0,2],
  [82, 0.8,3, 10.9,2, 21.0,3, 31.4,2, 53.0,2, 63.9,3, 74.4,2, 96.4,2],
  [83, 7.2,2, 17.5,3, 27.6,2, 38.2,3, 48.8,2, 70.4,2, 81.4,3, 92.0,2],
  [84, 3.0,3, 13.7,2, 23.5,3, 44.3,3, 55.2,2, 66.0,3, 77.1,2, 87.7,3],
  [85, 9.2,2, 19.0,3, 29.2,2, 39.8,3, 50.4,2, 61.1,3, 82.8,3, 93.7,2],
  [86, 36.0,3, 44.5,2, 52.8,4, 58.9,2],
  [87, 34.4,2, 41.2,3, 48.0,2, 56.6,3],
  [88, 37.5,3, 46.9,2, 54.0,1, 61.0,3],
  [89, 33.8,2, 40.0,4, 50.6,3, 59.3,2],
  [90, 35.5,2, 43.3,3, 55.2,2, 62.0,1],
  [91, 38.8,3, 47.1,2, 53.5,3, 60.2,2],
  [92, 34.9,2, 42.6,3, 49.8,2, 57.7,4],
  [93, 36.9,3, 45.0,2, 51.4,3, 61.5,2],
  [94, 33.4,2, 39.9,3, 48.6,2, 56.0,3],
  [95, 37.0,2, 44.0,3, 53.9,2, 59.8,3],
  [96, 35.6,3, 41.9,2, 50.3,3, 58.2,2],
  [97, 34.0,2, 46.4,3, 52.2,2, 61.2,3],
  [98, 38.3,3, 43.7,2, 55.4,3, 62.4,2],
  [99, 36.3,2, 47.8,3, 54.6,2, 60.6,2],
  [100, 34.7,3, 42.2,2, 51.0,3, 57.3,2]
];

const panelTitles = ["Ach", "Ach", "Ach"];
const panelSubs = ["LO", "MED", "HI"];
const panelLetters = ["A", "B", "C"];
const timeTicks = [10, 20, 30, 40, 50, 60, 70, 80, 90, 100];
const unitTicks = [25, 50, 75, 100];
const rightTicks = [12.5, 25, 37.5, 50, 62.5, 75, 87.5];
const groupNames = ["D1", "D2"];
const groupCenters = [25, 75];
const groupBounds = [0, 50, 100];

const burstGap = 0.4; // spacing between spikes inside a burst (s)

var cfg = {
  width: 1106,
  height: 1680,
  left: 68,
  right: 1071,
  tops: [23, 574, 1124],
  panelHeight: 514
};

var svg = d3.select(".raster").append("svg")
    .attr("width", cfg.width)
    .attr("height", cfg.height)
    .style("font-family", "'Open Sans', sans-serif");

var x = d3.scaleLinear().domain([0, 100]).range([cfg.left, cfg.right]);

function drawPanel(i, bursts){
  var top = cfg.tops[i];
  var y = d3.scaleLinear().domain([0, 100]).range([top, top + cfg.panelHeight]);
  var g = svg.append("g").attr("class", "panel-" + i);

  // expand bursts into single spikes
  var spikes = [];
  bursts.forEach(function(row){
    for (var j = 1; j < row.length; j += 2) {
      for (var k = 0; k < row[j + 1]; k++) spikes.push({unit: row[0], t: row[j] + k * burstGap});
    }
  });

  g.append("g")
    .selectAll("line")
    .data(spikes.filter(d => d.t <= 100))
    .enter().append("line")
      .attr("x1", d => Math.round(x(d.t)) + 0.5)
      .attr("x2", d => Math.round(x(d.t)) + 0.5)
      .attr("y1", d => y(d.unit - 1) + 0.4)
      .attr("y2", d => y(d.unit) - 0.4)
      .attr("stroke", "#1a1a1a")
      .attr("stroke-width", 1);

  var axisColor = "#7d7d7d";

  // bottom ticks (labels only on last panel)
  var bottom = g.append("g")
    .attr("transform", `translate(0,${top + cfg.panelHeight})`)
    .call(d3.axisBottom(x).tickValues(timeTicks).tickSizeInner(-10).tickSizeOuter(0).tickPadding(8)
      .tickFormat(i === 2 ? d3.format("d") : ""));
  // top ticks
  var topAx = g.append("g")
    .attr("transform", `translate(0,${top})`)
    .call(d3.axisTop(x).tickValues(timeTicks.slice(0, -1)).tickSizeInner(-10).tickSizeOuter(0).tickFormat(""));
  // left ticks
  var leftAx = g.append("g")
    .attr("transform", `translate(${cfg.left},0)`)
    .call(d3.axisLeft(y).tickValues(unitTicks).tickSizeInner(-10).tickSizeOuter(0).tickPadding(2));
  // right ticks
  var rightAx = g.append("g")
    .attr("transform", `translate(${cfg.right},0)`)
    .call(d3.axisRight(y).tickValues(rightTicks).tickSizeInner(-9).tickSizeOuter(0).tickFormat(""));

  [bottom, topAx, leftAx, rightAx].forEach(function(a){
    a.select(".domain").remove();
    a.selectAll("line").attr("stroke", axisColor);
    a.selectAll("text").attr("fill", "#111").style("font-size", "12px").style("font-family", "'Open Sans', sans-serif");
  });

  // box
  g.append("rect")
    .attr("x", cfg.left + 0.5)
    .attr("y", top + 0.5)
    .attr("width", cfg.right - cfg.left)
    .attr("height", cfg.panelHeight)
    .attr("fill", "none")
    .attr("stroke", axisColor)
    .attr("stroke-width", 1.2);

  // D1 / D2 brackets on the right
  g.selectAll(".bound")
    .data(groupBounds)
    .enter().append("line")
      .attr("x1", cfg.right + 6)
      .attr("x2", cfg.right + 31)
      .attr("y1", d => Math.round(y(d)) + 0.5)
      .attr("y2", d => Math.round(y(d)) + 0.5)
      .attr("stroke", "#222")
      .attr("stroke-width", 1.2);

  g.selectAll(".group")
    .data(groupNames)
    .enter().append("text")
      .attr("x", cfg.right + 9)
      .attr("y", (d, j) => y(groupCenters[j]) + 6)
      .style("font-family", "'Liberation Sans', Arial, sans-serif")
      .style("font-size", "17px")
      .text(d => d);

  // y label
  g.append("text")
    .attr("transform", `translate(35,${top + cfg.panelHeight / 2}) rotate(-90)`)
    .attr("text-anchor", "middle")
    .style("font-size", "15px")
    .text("Striatal Unit");

  // title with subscript
  var title = g.append("text")
    .attr("x", 556)
    .attr("y", top - 7)
    .style("font-family", "'Liberation Sans', Arial, sans-serif")
    .style("font-weight", "bold")
    .style("font-size", "17px")
    .text(panelTitles[i]);
  title.append("tspan")
    .attr("dx", 4)
    .attr("dy", 3)
    .style("font-size", "10px")
    .text(panelSubs[i]);

  // panel letter
  svg.append("text")
    .attr("x", 2)
    .attr("y", [20, 578, 1116][i])
    .style("font-family", "'Liberation Sans', Arial, sans-serif")
    .style("font-weight", "bold")
    .style("font-size", "19px")
    .text(panelLetters[i]);
}

drawPanel(0, achLoBursts);
drawPanel(1, achMedBursts);
drawPanel(2, achHiBursts);

svg.append("text")
  .attr("x", (cfg.left + cfg.right) / 2)
  .attr("y", 1674)
  .attr("text-anchor", "middle")
  .style("font-size", "16px")
  .text("Time (sec)");
</script>
</body>
</html>
